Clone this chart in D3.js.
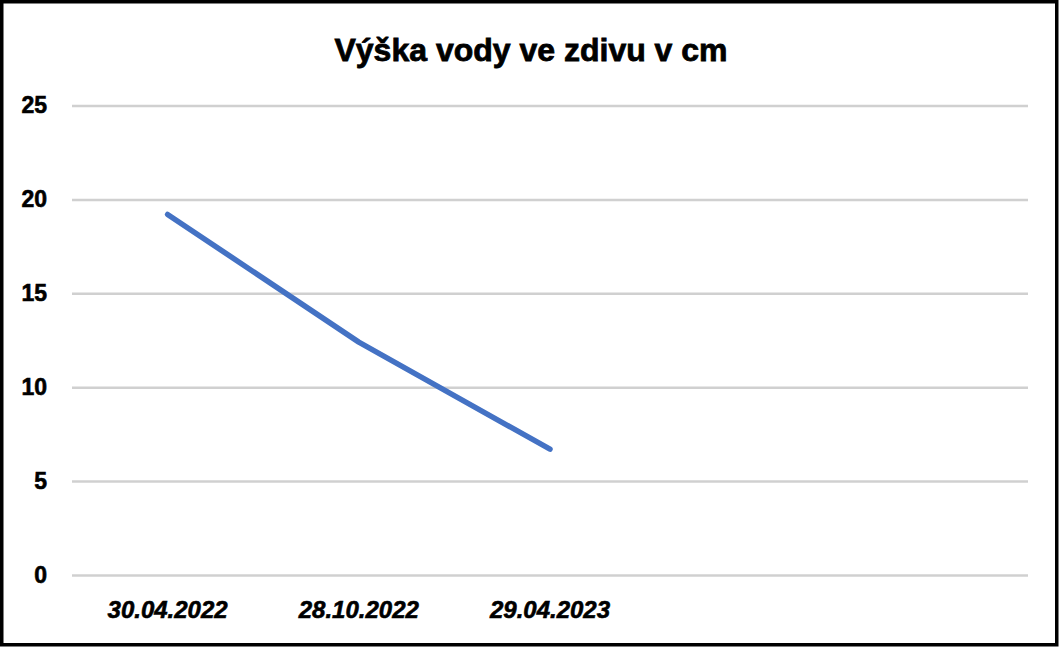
<!DOCTYPE html>
<html>
<head>
<meta charset="utf-8">
<script src="https://cdn.jsdelivr.net/npm/d3@7"></script>
<style>
  html, body { margin: 0; padding: 0; background: #ffffff; }
  text { font-family: "Liberation Sans", Arial, sans-serif; }
</style>
</head>
<body>
<div id="chart"></div>
<script>
const title = 'Výška vody ve zdivu v cm'
const categories = ['30.04.2022', '28.10.2022', '29.04.2023']
const values = [19.2, 12.4, 6.7]
const slotCount = 5
const yTicks = [0, 5, 10, 15, 20, 25]

const width = 1063
const height = 648
const margin = { left: 72, right: 35, top: 105.5, bottom: 73 }

const svg = d3.select('#chart')
  .append('svg')
  .attr('width', width)
  .attr('height', height)

svg.append('rect')
  .attr('width', width)
  .attr('height', height)
  .attr('fill', '#ffffff')

// outer frame
svg.append('rect')
  .attr('x', 1.75)
  .attr('y', 1.75)
  .attr('width', 1055)
  .attr('height', 643)
  .attr('fill', 'none')
  .attr('stroke', '#000000')
  .attr('stroke-width', 3.5)

const x = d3.scaleBand()
  .domain(d3.range(slotCount))
  .range([margin.left, width - margin.right])

const y = d3.scaleLinear()
  .domain([0, 25])
  .range([height - margin.bottom, margin.top])

// gridlines + y labels
const yAxis = svg.append('g')
  .attr('class', 'y-axis')
  .attr('transform', `translate(${margin.left}, 0)`)
  .call(d3.axisLeft(y)
    .tickValues(yTicks)
    .tickSize(-(width - margin.left - margin.right))
    .tickPadding(25))

yAxis.select('.domain').remove()
yAxis.selectAll('.tick line')
  .attr('stroke', '#d0d0d0')
  .attr('stroke-width', 2.5)
yAxis.selectAll('.tick text')
  .attr('fill', '#000000')
  .attr('stroke', '#000000')
  .attr('stroke-width', 0.6)
  .attr('font-size', '23px')
  .attr('font-weight', 700)

// x labels
const xAxis = svg.append('g')
  .attr('class', 'x-axis')
  .attr('transform', `translate(0, ${height - margin.bottom})`)
  .call(d3.axisBottom(x)
    .tickSize(0)
    .tickPadding(26)
    .tickFormat(i => categories[i] || ''))

xAxis.select('.domain').remove()
xAxis.selectAll('.tick text')
  .attr('fill', '#000000')
  .attr('stroke', '#000000')
  .attr('stroke-width', 0.6)
  .attr('font-size', '24px')
  .attr('font-weight', 700)
  .attr('font-style', 'italic')

// series line
const line = d3.line()
  .x((d, i) => x(i) + x.bandwidth() / 2)
  .y(d => y(d))

svg.append('path')
  .datum(values)
  .attr('d', line)
  .attr('fill', 'none')
  .attr('stroke', '#4472c4')
  .attr('stroke-width', 5.5)
  .attr('stroke-linejoin', 'round')
  .attr('stroke-linecap', 'round')

// title
svg.append('text')
  .attr('x', 531)
  .attr('y', 61)
  .attr('text-anchor', 'middle')
  .attr('font-size', '32px')
  .attr('font-weight', 700)
  .attr('fill', '#000000')
  .attr('stroke', '#000000')
  .attr('stroke-width', 0.8)
  .text(title)
</script>
</body>
</html>
